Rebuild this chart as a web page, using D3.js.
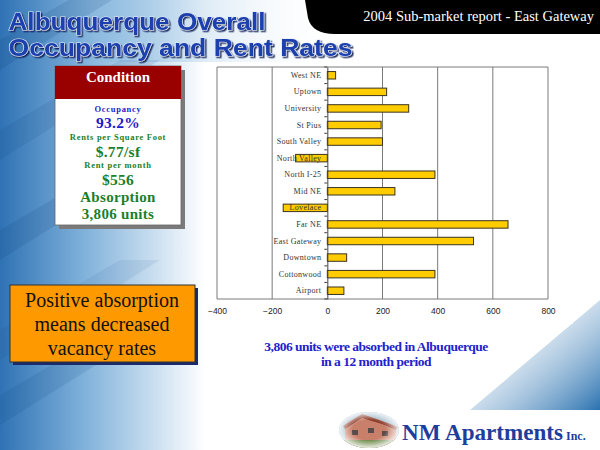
<!DOCTYPE html>
<html>
<head>
<meta charset="utf-8">
<script src="https://cdn.jsdelivr.net/npm/d3@7"></script>
<style>
  body { margin: 0; background: #fff; }
  svg { display: block; }
</style>
</head>
<body>
<svg id="slide" width="600" height="450"></svg>
<script>
// absorption by sub-market (units), top to bottom as in the chart
const submarkets = ["West NE", "Uptown", "University", "St Pius", "South Valley", "North Valley",
  "North I-25", "Mid NE", "Lovelace", "Far NE", "East Gateway", "Downtown", "Cottonwood", "Airport"];
const absorption = [30, 215, 295, 195, 200, -115, 390, 245, -160, 655, 530, 70, 390, 60];
const xTicks = [-400, -200, 0, 200, 400, 600, 800];

const titleLines = ["Albuquerque Overall", "Occupancy and Rent Rates"];
const conditionLines = [
  {t: "Occupancy", y: 112, s: 8.5, c: "#2222c8"},
  {t: "93.2%", y: 128, s: 15.5, c: "#1c1cc8"},
  {t: "Rents per Square Foot", y: 140, s: 8.5, c: "#1b7f2a"},
  {t: "$.77/sf", y: 157, s: 15.5, c: "#1b7f2a"},
  {t: "Rent per month", y: 168, s: 8.5, c: "#1b7f2a"},
  {t: "$556", y: 185, s: 15.5, c: "#1b7f2a"},
  {t: "Absorption", y: 202, s: 15, c: "#1b7f2a"},
  {t: "3,806 units", y: 219, s: 15, c: "#1b7f2a"}
];
const noteLines = ["Positive absorption", "means decreased", "vacancy rates"];
const captionLines = ["3,806 units were absorbed in Albuquerque", "in a 12 month period"];

const svg = d3.select("#slide");
const defs = svg.append("defs");

// ---- background ----
let g1 = defs.append("linearGradient").attr("id", "leftBlue")
  .attr("x1", 0).attr("x2", 1).attr("y1", 0).attr("y2", 0);
g1.append("stop").attr("offset", 0).attr("stop-color", "#2f72b4");
g1.append("stop").attr("offset", 0.4).attr("stop-color", "#7eb0da");
g1.append("stop").attr("offset", 1).attr("stop-color", "#ffffff");

let g2 = defs.append("linearGradient").attr("id", "topBlue")
  .attr("x1", 0).attr("x2", 1).attr("y1", 0).attr("y2", 0);
g2.append("stop").attr("offset", 0).attr("stop-color", "#8dbbe0").attr("stop-opacity", 0.9);
g2.append("stop").attr("offset", 1).attr("stop-color", "#ffffff").attr("stop-opacity", 0);

let g3 = defs.append("linearGradient").attr("id", "cornerBlue")
  .attr("x1", 0).attr("x2", 1).attr("y1", 0).attr("y2", 1);
g3.append("stop").attr("offset", 0).attr("stop-color", "#ffffff").attr("stop-opacity", 0);
g3.append("stop").attr("offset", 1).attr("stop-color", "#2a72b0");

let shadow = defs.append("filter").attr("id", "titleShadow")
  .attr("x", -0.05).attr("y", -0.2).attr("width", 1.1).attr("height", 1.5);
shadow.append("feDropShadow").attr("dx", 1.5).attr("dy", 1.5).attr("stdDeviation", 0.4)
  .attr("flood-color", "#0a1f5a").attr("flood-opacity", 0.9);

svg.append("rect").attr("width", 600).attr("height", 450).attr("fill", "#fff");
svg.append("rect").attr("width", 205).attr("height", 450).attr("fill", "url(#leftBlue)");
svg.append("rect").attr("x", 100).attr("width", 240).attr("height", 62).attr("fill", "url(#topBlue)");

// diagonal streaks on the left side
const streaks = [[0, 40, 0.14], [0, 130, 0.1], [0, 230, 0.14], [0, 330, 0.08], [0, 395, 0.12]];
svg.append("g").selectAll("path").data(streaks).join("path")
  .attr("d", d => `M${d[0]},${d[1]} L120,${d[1] - 70} L160,${d[1] - 70} L0,${d[1] + 30} Z`)
  .attr("fill", "#0b3f7a").attr("opacity", d => d[2]);

// bottom right corner
svg.append("path")
  .attr("d", "M470,410 L600,300 L600,410 Z")
  .attr("fill", "url(#cornerBlue)");

// white backdrop for the chart
svg.append("rect").attr("x", 203).attr("y", 62).attr("width", 370).attr("height", 262).attr("fill", "#fff");

// ---- top-right black tab ----
svg.append("path")
  .attr("d", "M305,0 L600,0 L600,34 L335,34 Q312,34 308,18 Z")
  .attr("fill", "#000");
svg.append("text").attr("x", 594).attr("y", 21).attr("text-anchor", "end")
  .attr("font-family", "Liberation Serif, serif").attr("font-size", 14.5).attr("fill", "#fff")
  .text("2004 Sub-market report - East Gateway");

// ---- title ----
const title = svg.append("g").attr("font-family", "Liberation Sans, Arial, sans-serif")
  .attr("font-weight", "bold").attr("font-size", 23).attr("filter", "url(#titleShadow)");
[[0, 30, 257], [1, 56, 344]].forEach(([i, ty, w]) => {
  title.append("text").attr("x", 8.5).attr("y", ty).attr("textLength", w)
    .attr("lengthAdjust", "spacingAndGlyphs").attr("fill", "#1d3fae")
    .attr("stroke", "#dfe8f5").attr("stroke-width", 1.2).attr("paint-order", "stroke")
    .text(titleLines[i]);
});

// ---- condition box ----
svg.append("rect").attr("x", 59).attr("y", 70).attr("width", 126).attr("height", 159).attr("fill", "#7a7a7a");
svg.append("rect").attr("x", 55).attr("y", 66).attr("width", 126).attr("height", 159)
  .attr("fill", "#fff").attr("stroke", "#666").attr("stroke-width", 0.8);
svg.append("rect").attr("x", 55).attr("y", 66).attr("width", 126).attr("height", 33).attr("fill", "#990000");
svg.append("text").attr("x", 118).attr("y", 82).attr("text-anchor", "middle")
  .attr("font-family", "Liberation Serif, serif").attr("font-weight", "bold").attr("font-size", 15)
  .attr("fill", "#fff").text("Condition");
svg.append("g").selectAll("text").data(conditionLines).join("text")
  .attr("x", 118).attr("y", d => d.y).attr("text-anchor", "middle")
  .attr("font-family", "Liberation Serif, serif").attr("font-weight", "bold")
  .attr("font-size", d => d.s).attr("fill", d => d.c)
  .attr("letter-spacing", d => d.s < 10 ? 0.7 : 0.3)
  .text(d => d.t);

// ---- orange note ----
svg.append("rect").attr("x", 13).attr("y", 288).attr("width", 185).attr("height", 77).attr("fill", "#1a2a6a");
svg.append("rect").attr("x", 10).attr("y", 285).attr("width", 185).attr("height", 77)
  .attr("fill", "#ff9900").attr("stroke", "#333").attr("stroke-width", 1);
svg.append("g").selectAll("text").data(noteLines).join("text")
  .attr("x", 102).attr("y", (d, i) => 307 + i * 24).attr("text-anchor", "middle")
  .attr("font-family", "Liberation Serif, serif").attr("font-size", 20).attr("fill", "#111")
  .text(d => d);

// ---- bar chart ----
const plotTop = 67, plotBottom = 299;
const x = d3.scaleLinear().domain([-400, 800]).range([217, 548]);
const y = d3.scaleBand().domain(submarkets).range([plotTop, plotBottom]).paddingInner(0.55).paddingOuter(0.275);

// grid lines and frame
svg.append("g").selectAll("line").data(xTicks.filter(v => v !== 0)).join("line")
  .attr("x1", d => x(d)).attr("x2", d => x(d)).attr("y1", plotTop).attr("y2", plotBottom)
  .attr("stroke", "#7a7a7a").attr("stroke-width", 1);
svg.append("line").attr("x1", x(-400)).attr("x2", x(800)).attr("y1", plotTop).attr("y2", plotTop)
  .attr("stroke", "#7a7a7a");
svg.append("line").attr("x1", x(-400)).attr("x2", x(800)).attr("y1", plotBottom).attr("y2", plotBottom)
  .attr("stroke", "#7a7a7a");

// bars
svg.append("g").selectAll("rect").data(absorption).join("rect")
  .attr("x", d => x(Math.min(0, d)))
  .attr("y", (d, i) => y(submarkets[i]))
  .attr("width", d => Math.abs(x(d) - x(0)))
  .attr("height", y.bandwidth())
  .attr("fill", "#ffcc00").attr("stroke", "#3a3320").attr("stroke-width", 1);

// category axis at zero
const yAxis = d3.axisLeft(y).tickSize(0).tickPadding(6).tickFormat(d => d);
const ya = svg.append("g").attr("transform", `translate(${x(0)},0)`).call(yAxis);
ya.select(".domain").attr("stroke", "#444");
ya.selectAll("text").attr("font-family", "Liberation Serif, serif").attr("font-size", 8)
  .attr("letter-spacing", 0.3).attr("fill", "#333");
// small tick marks between categories
const bounds = d3.range(submarkets.length + 1).map(i => plotTop + i * y.step());
ya.selectAll("line.sep").data(bounds).join("line").attr("class", "sep")
  .attr("x1", -3).attr("x2", 0).attr("y1", d => d).attr("y2", d => d).attr("stroke", "#444");

// value axis
const xAxis = d3.axisBottom(x).tickValues(xTicks).tickSize(0).tickPadding(9);
const xa = svg.append("g").attr("transform", `translate(0,${plotBottom})`).call(xAxis);
xa.select(".domain").remove();
xa.selectAll("text").attr("font-family", "Liberation Sans, Arial, sans-serif")
  .attr("font-size", 8.5).attr("fill", "#222");

// caption
svg.append("g").selectAll("text").data(captionLines).join("text")
  .attr("x", 376).attr("y", (d, i) => 351 + i * 15).attr("text-anchor", "middle")
  .attr("font-family", "Liberation Serif, serif").attr("font-weight", "bold").attr("font-size", 13.5)
  .attr("letter-spacing", -0.5).attr("fill", "#2222cc")
  .text(d => d);

// ---- logo ----
const photo = svg.append("g");
let pg = defs.append("radialGradient").attr("id", "photoFade");
pg.append("stop").attr("offset", 0.55).attr("stop-color", "#fff").attr("stop-opacity", 0);
pg.append("stop").attr("offset", 1).attr("stop-color", "#fff").attr("stop-opacity", 0.85);
defs.append("clipPath").attr("id", "oval").append("ellipse")
  .attr("cx", 369).attr("cy", 430).attr("rx", 30).attr("ry", 18);
const ph = photo.append("g").attr("clip-path", "url(#oval)");
ph.append("rect").attr("x", 338).attr("y", 411).attr("width", 62).attr("height", 38).attr("fill", "#9bb6c8");
ph.append("path").attr("d", "M345,424 L362,414 L380,420 L396,426 L396,449 L345,449 Z").attr("fill", "#c9806a");
ph.append("path").attr("d", "M343,426 L362,414 L382,421 L398,427 L396,430 L382,424 L362,418 L345,429 Z").attr("fill", "#8a3a2a");
ph.append("rect").attr("x", 352).attr("y", 430).attr("width", 6).attr("height", 5).attr("fill", "#5a4a4a");
ph.append("rect").attr("x", 368).attr("y", 428).attr("width", 6).attr("height", 5).attr("fill", "#5a4a4a");
ph.append("rect").attr("x", 382).attr("y", 431).attr("width", 6).attr("height", 5).attr("fill", "#5a4a4a");
ph.append("rect").attr("x", 338).attr("y", 440).attr("width", 62).attr("height", 10).attr("fill", "#6f8a4a");
photo.append("ellipse").attr("cx", 369).attr("cy", 430).attr("rx", 30).attr("ry", 18).attr("fill", "url(#photoFade)");

svg.append("text").attr("x", 402).attr("y", 440).attr("textLength", 161).attr("lengthAdjust", "spacingAndGlyphs")
  .attr("font-family", "Liberation Serif, serif").attr("font-weight", "bold").attr("font-size", 23)
  .attr("fill", "#1f3d9c").text("NM Apartments");
svg.append("text").attr("x", 566).attr("y", 440)
  .attr("font-family", "Liberation Serif, serif").attr("font-weight", "bold").attr("font-size", 12)
  .attr("fill", "#1f3d9c").text("Inc.");
</script>
</body>
</html>
